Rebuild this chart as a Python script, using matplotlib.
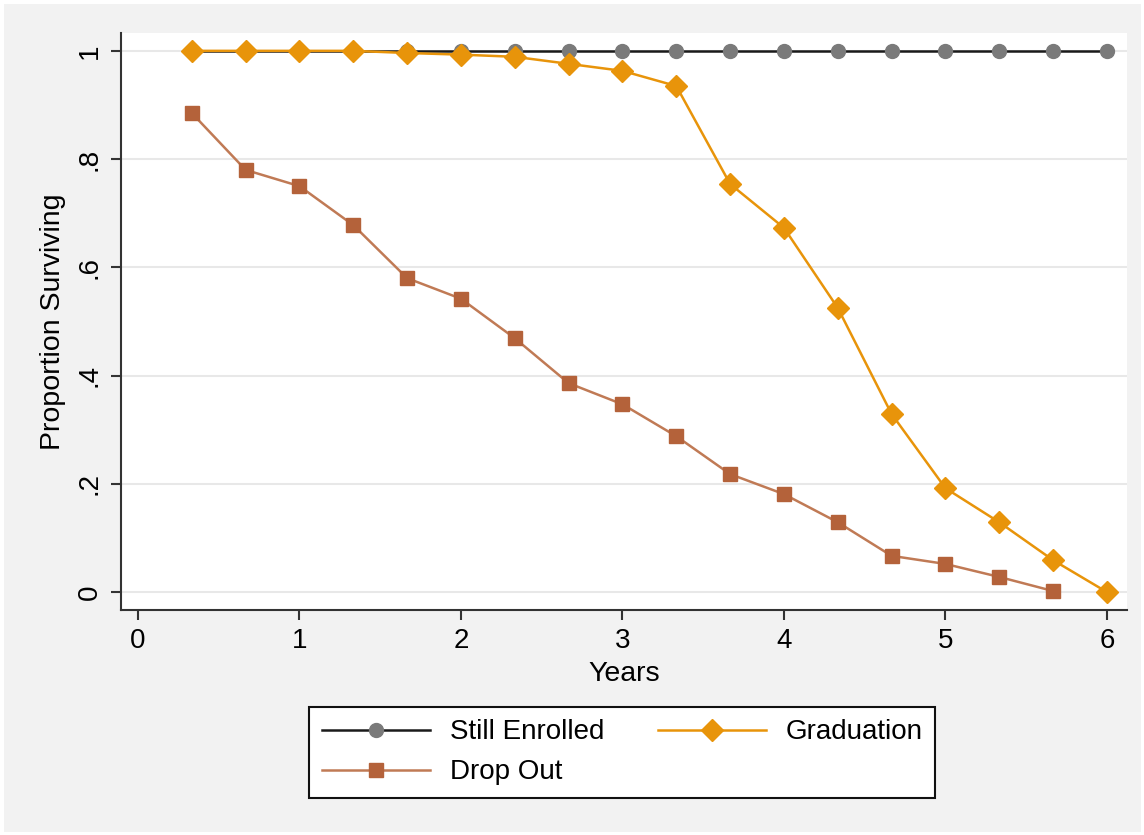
import matplotlib.pyplot as plt

plt.rcParams['font.family'] = ['Liberation Sans', 'DejaVu Sans']

# anos (passos de 4 meses)
anos = [i / 3 for i in range(1, 19)]

matriculados = [1.0] * 18
graduacao = [1.0, 1.0, 1.0, 1.0, 0.996, 0.993, 0.989, 0.976, 0.963, 0.935,
             0.754, 0.673, 0.525, 0.329, 0.192, 0.129, 0.059, 0.0]
evasao = [0.885, 0.780, 0.750, 0.678, 0.580, 0.542, 0.469, 0.386, 0.347,
          0.288, 0.218, 0.181, 0.129, 0.067, 0.052, 0.028, 0.002]

xticks = [0, 1, 2, 3, 4, 5, 6]
yticks = [0, 0.2, 0.4, 0.6, 0.8, 1.0]
ylabels = ["0", ".2", ".4", ".6", ".8", "1"]

fundo = '#f2f2f2'
laranja = '#e8940a'
marrom = '#b4623a'

fig = plt.figure(figsize=(11.44, 8.35), dpi=100, facecolor=fundo)
fig.patch.set_edgecolor('white')
fig.patch.set_linewidth(5)
ax = fig.add_axes([0.1058, 0.2695, 0.8793, 0.691])
ax.set_facecolor('white')

l1, = ax.plot(anos, matriculados, color='#1a1a1a', lw=1.8, marker='o',
              ms=10, mfc='#7a7a7a', mec='#7a7a7a', label='Still Enrolled', zorder=3)
l3, = ax.plot(anos[:len(evasao)], evasao, color='#c07a55', lw=1.8, marker='s',
              ms=10, mfc=marrom, mec=marrom, label='Drop Out', zorder=3)
l2, = ax.plot(anos, graduacao, color=laranja, lw=1.8, marker='D',
              ms=11, mfc=laranja, mec=laranja, label='Graduation', zorder=4)

ax.set_xlim(-0.105, 6.124)
ax.set_ylim(-0.033, 1.033)
ax.set_xticks(xticks)
ax.set_yticks(yticks)
ax.set_yticklabels(ylabels, rotation=90, va='center')
ax.tick_params(axis='both', labelsize=20, length=7, width=1.5, color='#333333', pad=6)
ax.grid(axis='y', color='#e8e8e8', lw=1.5)
ax.set_axisbelow(True)

for lado in ['top', 'right']:
    ax.spines[lado].set_visible(False)
for lado in ['left', 'bottom']:
    ax.spines[lado].set_color('#333333')
    ax.spines[lado].set_linewidth(1.5)

ax.set_xlabel("Years", fontsize=20.5, labelpad=5)
ax.set_ylabel("Proportion Surviving", fontsize=20.5, labelpad=8)

leg = fig.legend(handles=[l1, l3, l2], loc='center', ncol=2,
                 bbox_to_anchor=(0.544, 0.099), fontsize=20, frameon=True,
                 fancybox=False, edgecolor='#111111', framealpha=1,
                 handlelength=3.9, handletextpad=0.7, columnspacing=1.95,
                 borderpad=0.45, labelspacing=0.5)
leg.get_frame().set_linewidth(1.5)

fig.savefig('out.png', dpi=100, facecolor=fundo, edgecolor='white')
